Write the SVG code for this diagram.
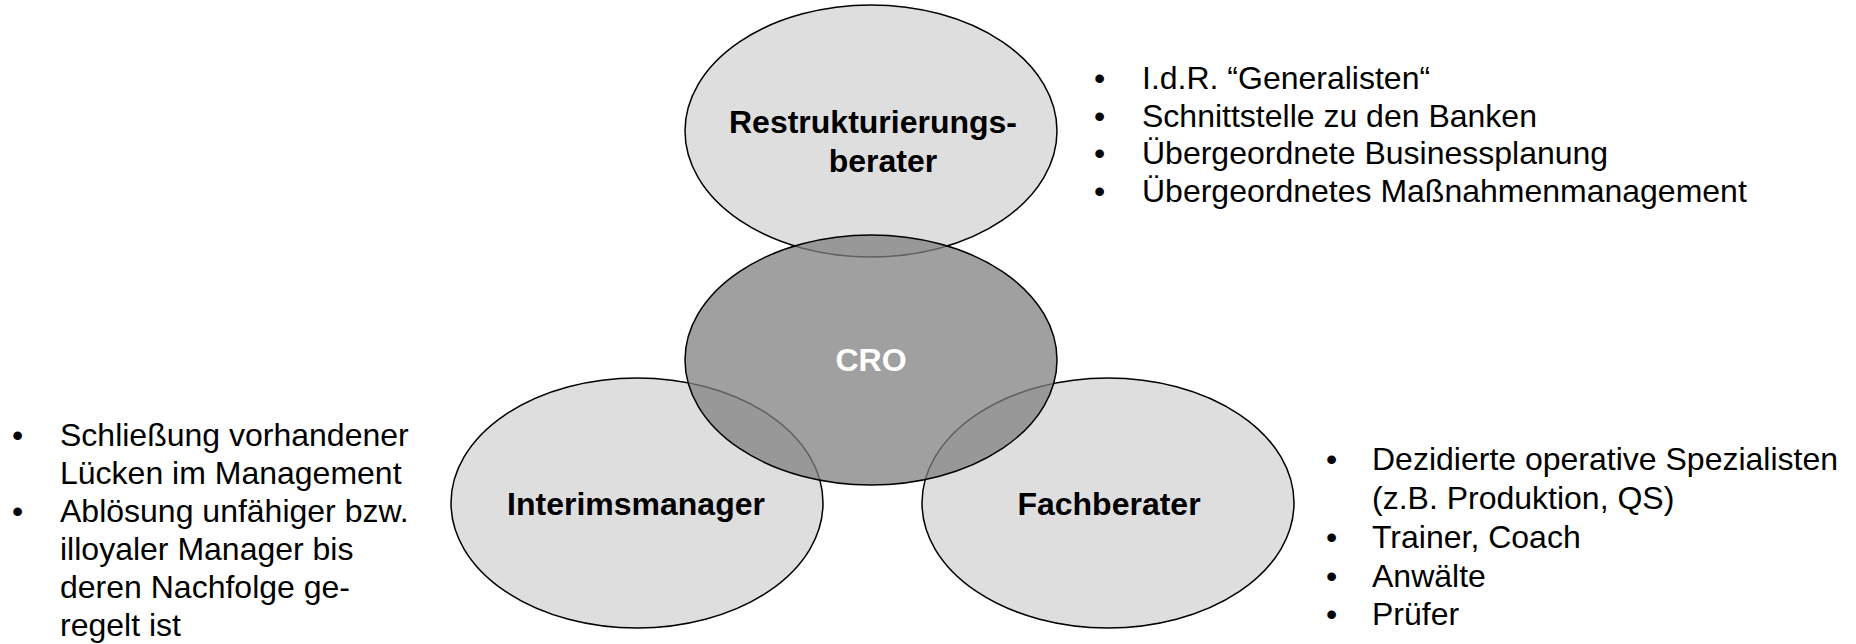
<svg xmlns="http://www.w3.org/2000/svg" width="1856" height="644" viewBox="0 0 1856 644">
  <style>
    .bubble { fill: #dedede; stroke: #000; stroke-width: 1.5; }
    .core { fill: #808080; fill-opacity: 0.75; stroke: #000; stroke-width: 1.5; }
    .label { font-family: "Liberation Sans", Arial, sans-serif; font-size: 32px; font-weight: bold; fill: #000; text-anchor: middle; }
    .label-w { font-family: "Liberation Sans", Arial, sans-serif; font-size: 32px; font-weight: bold; fill: #fff; text-anchor: middle; }
    .list { font-family: "Liberation Sans", Arial, sans-serif; font-size: 32px; fill: #000; }
  </style>
  <rect width="1856" height="644" fill="#fff"/>
  <g id="node-restrukturierungsberater">
    <ellipse class="bubble" cx="871" cy="131" rx="186" ry="126"/>
    <text class="label" x="873" y="133">Restrukturierungs-</text>
    <text class="label" x="883" y="172">berater</text>
  </g>
  <g id="node-interimsmanager">
    <ellipse class="bubble" cx="637" cy="503" rx="186" ry="125"/>
    <text class="label" x="636" y="515">Interimsmanager</text>
  </g>
  <g id="node-fachberater">
    <ellipse class="bubble" cx="1108" cy="503" rx="186" ry="125"/>
    <text class="label" x="1109" y="515">Fachberater</text>
  </g>
  <g id="node-cro">
    <ellipse class="core" cx="871" cy="360" rx="186" ry="125"/>
    <text class="label-w" x="871" y="371">CRO</text>
  </g>
  <g id="connectors"/>
  <g id="notes-restrukturierungsberater" class="list">
    <text x="1094" y="89">•</text><text x="1142" y="89">I.d.R. “Generalisten“</text>
    <text x="1094" y="127">•</text><text x="1142" y="127">Schnittstelle zu den Banken</text>
    <text x="1094" y="164">•</text><text x="1142" y="164">Übergeordnete Businessplanung</text>
    <text x="1094" y="202">•</text><text x="1142" y="202">Übergeordnetes Maßnahmenmanagement</text>
  </g>
  <g id="notes-interimsmanager" class="list">
    <text x="12" y="446">•</text><text x="60" y="446">Schließung vorhandener</text>
    <text x="60" y="484">Lücken im Management</text>
    <text x="12" y="522">•</text><text x="60" y="522">Ablösung unfähiger bzw.</text>
    <text x="60" y="560">illoyaler Manager bis</text>
    <text x="60" y="598">deren Nachfolge ge-</text>
    <text x="60" y="636">regelt ist</text>
  </g>
  <g id="notes-fachberater" class="list">
    <text x="1326" y="470">•</text><text x="1372" y="470">Dezidierte operative Spezialisten</text>
    <text x="1372" y="509">(z.B. Produktion, QS)</text>
    <text x="1326" y="548">•</text><text x="1372" y="548">Trainer, Coach</text>
    <text x="1326" y="587">•</text><text x="1372" y="587">Anwälte</text>
    <text x="1326" y="625">•</text><text x="1372" y="625">Prüfer</text>
  </g>
</svg>
